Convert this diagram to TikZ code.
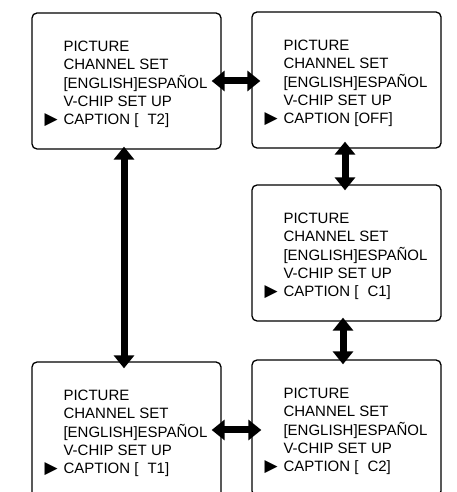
\documentclass[tikz,border=0pt]{standalone}
\usepackage{fontspec}
\setmainfont{Liberation Sans}
\newfontfamily\symfont{DejaVu Sans}
\usetikzlibrary{arrows.meta}

\newcommand{\cursor}{\hspace*{-1pt}{\symfont\fontsize{17}{17}\selectfont ▶}}
\newcommand{\menu}[1]{%
  \fontsize{15}{18}\selectfont
  \begin{tabular}{@{}p{13pt}@{\hspace{5pt}}l@{}}
    \rule{0pt}{19pt} & PICTURE\\
    & CHANNEL SET\\
    & [ENGLISH]ESPAÑOL\\
    & V-CHIP SET UP\\
    \cursor & CAPTION #1
  \end{tabular}}

\tikzset{
  screen/.style={draw, line width=1.3pt, rounded corners=5pt,
    minimum width=189pt, minimum height=136pt, inner xsep=12pt},
  twoway/.style={{Triangle[width=20pt,length=13pt]}-{Triangle[width=20pt,length=13pt]},
    line width=7pt}
}

\begin{document}
\begin{tikzpicture}[x=1pt,y=1pt]
  \path[use as bounding box, clip] (0,0) rectangle (457,492);

  % Top row
  \node[screen] (t2) at (126.5,411) {\menu{[\hspace{0.6em}T2]}};
  \node[screen] (off) at (346.5,412) {\menu{[OFF]}};

  % Middle right
  \node[screen] (c1) at (346.5,239) {\menu{[\hspace{0.6em}C1]}};

  % Bottom row (cut off at the bottom)
  \node[screen] (t1) at (126.5,62) {\menu{[\hspace{0.6em}T1]}};
  \node[screen] (c2) at (346.5,64) {\menu{[\hspace{0.6em}C2]}};

  % Arrows between screens
  \draw[twoway] ([xshift=-10pt]t2.east) -- ([xshift=9pt]t2.east -| off.west);
  \draw[twoway] ([shift={(-2.5pt,3pt)}]t2.south) -- ([shift={(-2.5pt,-7pt)}]t1.north);
  \draw[twoway] ([shift={(-1.5pt,7pt)}]off.south) -- ([shift={(-1.5pt,-6pt)}]c1.north);
  \draw[twoway] ([shift={(-3.5pt,4pt)}]c1.south) -- ([shift={(-3.5pt,-5pt)}]c2.north);
  \draw[twoway] ([xshift=-10pt]t1.east) -- ([xshift=10pt]t1.east -| c2.west);

\end{tikzpicture}
\end{document}
